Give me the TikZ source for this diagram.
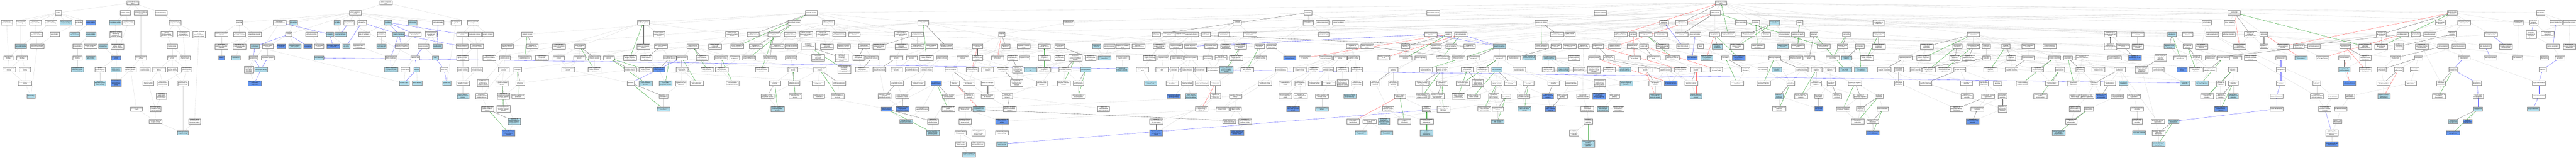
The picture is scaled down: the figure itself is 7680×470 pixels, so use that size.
\documentclass[tikz,border=0pt]{standalone}
\usepackage{fontspec}
\setmainfont{Liberation Sans}
\usepackage{varwidth}
\usetikzlibrary{arrows.meta}
\definecolor{lbc}{HTML}{ADD8E6}
\definecolor{dbc}{HTML}{6495ED}
\pgfdeclarelayer{bglayer}
\pgfdeclarelayer{edgelayer}
\pgfsetlayers{bglayer,edgelayer,main}
\newcommand\GN[4][wbox]{\node[#1] (#2) at (#3) {#4};}
\tikzset{
 wbox/.style={draw=black!45, line width=0.6pt, fill=white, font=\fontsize{3.8}{4.2}\selectfont, inner xsep=2pt, inner ysep=1.6pt, minimum height=13pt, minimum width=18pt, execute at begin node={\begin{varwidth}{36pt}\centering\hyphenpenalty=10000\relax}, execute at end node={\end{varwidth}}},
 lbox/.style={wbox, fill=lbc},
 dbox/.style={wbox, fill=dbc},
 ge/.style={draw=black!16, line width=0.5pt, -{Stealth[length=2.2pt,width=1.8pt]}},
 gr/.style={ge, draw=green!55!black},
 rd/.style={ge, draw=red!75},
 bk/.style={ge, draw=black!70},
 bl/.style={ge, draw=blue!75},
}
\begin{document}
\begin{tikzpicture}[x=1pt,y=-1pt]
\begin{pgfonlayer}{bglayer}
\fill[white] (0,0) rectangle (7680,470);
\end{pgfonlayer}
\useasboundingbox (0,0) rectangle (7680,470);
% ---------------- molecular function ----------------
\GN{mf}{396,8}{molecular function\\MFO}
\GN{bind}{174,38}{binding}
\GN{cat}{373,38}{catalytic activity}
\GN{mta}{420,38}{molecular transducer activity}
\GN{tra}{480,38}{transporter activity}
\GN{cdb}{20,67}{carbohydrate derivative binding}
\GN{smb}{62,67}{small molecule binding}
\GN{hcb}{105,67}{heterocyclic compound binding}
\GN{occb}{151,67}{organic cyclic compound binding}
\GN[lbox]{pccb}{196,67}{protein-containing complex binding}
\GN{ionb}{235,67}{ion binding}
\GN[dbox]{pb}{270,67}{protein binding}
\GN[lbox]{tfa}{344,67}{transferase activity}
\GN{cap}{382,67}{catalytic activity, acting on a protein}
\GN{ttr}{522,67}{transmembrane transporter activity}
\GN{npb}{108,102}{nucleoside phosphate binding}
\GN{anb}{163,102}{anion binding}
\GN[lbox]{psa}{222,102}{protein self-association}
\GN[lbox]{enzb}{270,102}{enzyme binding}
\GN{tfp}{345,103}{transferase activity, transferring phosphorus-containing groups}
\GN{pttr}{497,102}{passive transmembrane transporter activity}
\GN{mittr}{546,102}{monoatomic ion transmembrane transporter activity}
\GN{imttr}{593,102}{inorganic molecular entity transmembrane transporter activity}
\GN[lbox]{nb}{62,138}{nucleotide binding}
\GN{prtb}{111,138}{purine ribonucleoside triphosphate binding}
\GN{kb}{231,138}{kinase binding}
\GN{ulplb}{270,138}{ubiquitin-like protein ligase binding}
\GN[lbox]{ka}{307,138}{kinase activity}
\GN{ptaa}{350,138}{phosphotransferase activity, alcohol group as acceptor}
\GN{cha}{513,138}{channel activity}
\GN{rnb}{25,172}{ribonucleotide binding}
\GN{pnb}{66,172}{purine nucleotide binding}
\GN{pkb}{231,172}{protein kinase binding}
\GN[lbox]{uplb}{270,172}{ubiquitin protein ligase binding}
\GN[dbox]{pka}{346,172}{protein kinase activity}
\GN{sra}{420,172}{signaling receptor activity}
\GN{gca}{513,172}{gated channel activity}
\GN{mica}{552,172}{monoatomic ion channel activity}
\GN{prnb}{27,207}{purine ribonucleotide binding}
\GN{anbb}{74,207}{adenyl nucleotide binding}
\GN[lbox]{pdpkb}{231,207}{3-phosphoinositide-dependent protein kinase binding}
\GN{pstka}{298,207}{protein serine/threonine kinase activity}
\GN[lbox]{ptka}{346,207}{protein tyrosine kinase activity}
\GN{tsra}{389,207}{transmembrane signaling receptor activity}
\GN{ntra}{432,207}{neurotransmitter receptor activity}
\GN{lgca}{474,207}{ligand-gated channel activity}
\GN{vgca}{514,207}{voltage-gated channel activity}
\GN{migca}{556,207}{monoatomic ion gated channel activity}
\GN{arnb}{74,247}{adenyl ribonucleotide binding}
\GN[lbox]{cdpka}{298,247}{calmodulin-dependent protein kinase activity}
\GN[dbox]{trptka}{346,247}{transmembrane receptor protein tyrosine kinase activity}
\GN{tgca}{442,247}{transmitter-gated channel activity}
\GN{lgmica}{485,247}{ligand-gated monoatomic ion channel activity}
\GN{vgmica}{545,247}{voltage-gated monoatomic ion channel activity}
\GN[lbox]{atpb}{92,286}{ATP binding}
\GN{elgmica}{481,286}{extracellular ligand-gated monoatomic ion channel activity}
\GN{glura}{407,324}{glutamate receptor activity}
\GN{tgmica}{463,324}{transmitter-gated monoatomic ion channel activity}
\GN{igra}{464,361}{ionotropic glutamate receptor activity}
\GN{icttr}{580,361}{inorganic cation transmembrane transporter activity}
\GN[lbox]{nmdara}{545,395}{NMDA glutamate receptor activity}
% ---------------- cellular component ----------------
\GN{cc}{1151,8}{cellular component\\CCO}
\GN{cae}{1059,38}{cellular anatomical entity}
\GN{org}{713,67}{organelle}
\GN{ias}{833,67}{intracellular anatomical structure}
\GN[lbox]{cj}{875,67}{cell junction}
\GN[lbox]{cb}{1005,67}{cell body}
\GN{sdc}{1040,67}{somatodendritic compartment}
\GN{cper}{1079,67}{cell periphery}
\GN[lbox]{mem}{1157,67}{membrane}
\GN[lbox]{cproj}{1230,67}{cell projection}
\GN{cle}{1306,67}{cell leading edge}
\GN{spg}{1360,67}{site of polarized growth}
\GN{pcc}{1410,67}{protein-containing complex}
\GN{mbo}{660,102}{membrane-bounded organelle}
\GN{nmbo}{714,102}{non-membrane-bounded organelle}
\GN{io}{759,102}{intracellular organelle}
\GN{syn}{861,102}{synapse}
\GN{aj}{929,102}{anchoring junction}
\GN[lbox]{cyto}{983,102}{cytoplasm}
\GN[lbox]{ncb}{1015,102}{neuronal cell body}
\GN{som}{1086,102}{side of membrane}
\GN{mmd}{1137,102}{membrane microdomain}
\GN[lbox]{pm}{1189,102}{plasma membrane}
\GN{icm}{1237,102}{intrinsic component of membrane}
\GN{pmbcp}{1285,102}{plasma membrane bounded cell projection}
\GN{mpc}{1378,102}{membrane protein complex}
\GN{tc}{1416,102}{transporter complex}
\GN{rc}{1454,102}{receptor complex}
\GN{imbo}{660,138}{intracellular membrane-bounded organelle}
\GN{inmbo}{714,138}{intracellular non-membrane-bounded organelle}
\GN[lbox]{psyn}{760,138}{postsynapse}
\GN{nns}{798,138}{neuron to neuron synapse}
\GN[dbox]{gsyn}{838,138}{glutamatergic synapse}
\GN[lbox]{sca}{879,138}{Schaffer collateral - CA1 synapse}
\GN[dbox]{presyn}{917,138}{presynapse}
\GN{csj}{951,138}{cell-substrate junction}
\GN[dbox]{prc}{993,138}{perinuclear region of cytoplasm}
\GN[lbox]{ccx}{1032,138}{cell cortex}
\GN{csm}{1070,138}{cytoplasmic side of membrane}
\GN[lbox]{mraft}{1137,138}{membrane raft}
\GN{icpm}{1198,138}{intrinsic component of plasma membrane}
\GN{np}{1262,138}{neuron projection}
\GN[lbox]{lam}{1304,138}{lamellipodium}
\GN{pmpc}{1378,138}{plasma membrane protein complex}
\GN{tmtc}{1422,138}{transmembrane transporter complex}
\GN[dbox]{nuc}{660,172}{nucleus}
\GN[lbox]{csk}{703,172}{cytoskeleton}
\GN{pss}{755,172}{postsynaptic specialization}
\GN{asyn}{798,172}{asymmetric synapse}
\GN[lbox]{fa}{951,172}{focal adhesion}
\GN{cspm}{1165,172}{cytoplasmic side of plasma membrane}
\GN{dtree}{1238,172}{dendritic tree}
\GN[lbox]{axon}{1298,172}{axon}
\GN{pmsrc}{1379,172}{plasma membrane signaling receptor complex}
\GN{pssic}{742,207}{postsynaptic specialization, intracellular component}
\GN[lbox]{psd}{778,207}{postsynaptic density}
\GN[lbox]{iccspm}{1166,207}{intrinsic component of cytoplasmic side of plasma membrane}
\GN{nspine}{1208,207}{neuron spine}
\GN[lbox]{dend}{1242,207}{dendrite}
\GN{daxon}{1324,207}{distal axon}
\GN{ntrc}{1379,207}{neurotransmitter receptor complex}
\GN{micc}{1422,207}{monoatomic ion channel complex}
\GN[dbox]{psdic}{759,247}{postsynaptic density, intracellular component}
\GN[lbox]{dspine}{1205,247}{dendritic spine}
\GN[lbox]{adend}{1244,247}{apical dendrite}
\GN[lbox]{gcone}{1332,247}{growth cone}
\GN{igrc}{1380,247}{ionotropic glutamate receptor complex}
\GN[lbox]{nmdarc}{1380,286}{NMDA selective glutamate receptor complex}
% ---------------- biological process ----------------
\GN{bp}{5131,8}{biological process\\BPO}
\GN{cp}{5113,38}{cellular process}
\GN{mp}{2419,38}{metabolic process}
\GN{loc}{3900,38}{localization}
\GN{hp}{4273,38}{homeostatic process}
\GN{breg}{4771,38}{biological regulation}
\GN{mop}{6661,38}{multicellular organismal process}
\GN{dev}{7311,38}{developmental process}
\GN{rep}{7574,38}{reproduction}
% row 67
\GN{ncmp}{1918,67}{nitrogen compound metabolic process}
\GN{bsp}{2368,67}{biosynthetic process}
\GN{osmp}{2469,67}{organic substance metabolic process}
\GN{cmp}{2752,67}{cellular metabolic process}
\GN{eol}{3186,67}{establishment of localization}
\GN{chh}{3688,67}{chemical homeostasis}
\GN{mol}{3900,67}{maintenance of location}
\GN{chom}{3943,67}{cellular homeostasis}
\GN{cloc}{3991,67}{cellular localization}
\GN{rts}{4595,67}{response to stimulus}
\GN{moh}{4961,67}{multicellular organismal homeostasis}
\GN{rbp}{5013,67}{regulation of biological process}
\GN{trem}{5190,67}{tissue remodeling}
\GN{locom}{5234,67}{locomotion}
\GN[lbox]{isp}{5290,67}{immune system process}
\GN{growth}{5365,67}{growth}
\GN{ccob}{5601,67}{cellular component organization or biogenesis}
\GN{cact}{6579,67}{cell activation}
\GN{tmig}{6647,67}{tissue migration}
\GN{cdp}{7275,67}{cellular developmental process}
\GN{asd}{7346,67}{anatomical structure development}
\GN{dmat}{7508,67}{developmental maturation}
\GN{mor}{7554,67}{multicellular organism reproduction}
\GN{srep}{7620,67}{sexual reproduction}
\GN{rp}{7661,67}{reproductive process}
% row 102
\GN{capr}{1572,102}{catabolic process}
\GN{rnsmp}{1965,102}{reactive nitrogen species metabolic process}
\GN{cncmp}{2182,102}{cellular nitrogen compound metabolic process}
\GN{rmp}{2245,102}{regulation of metabolic process}
\GN{cbp}{2307,102}{cellular biosynthetic process}
\GN{hmp}{2355,102}{heterocycle metabolic process}
\GN{cacmp}{2403,102}{cellular aromatic compound metabolic process}
\GN{occmp}{2453,102}{organic cyclic compound metabolic process}
\GN{osbp}{2501,102}{organic substance biosynthetic process}
\GN{pmp}{2547,102}{primary metabolic process}
\GN{ohcmp}{2687,102}{organic hydroxy compound metabolic process}
\GN{smmp}{2735,102}{small molecule metabolic process}
\GN{trans}{2986,102}{transport}
\GN{rlocz}{3447,102}{regulation of localization}
\GN{rasm}{3485,102}{response to abiotic stimulus}
\GN{rstr}{3522,102}{response to stress}
\GN{rchem}{3553,102}{response to chemical}
\GN{iih}{3595,102}{inorganic ion homeostasis}
\GN{mih}{3649,102}{monoatomic ion homeostasis}
\GN{ichh}{3727,102}{intracellular chemical homeostasis}
\GN{molc}{3946,102}{maintenance of location in cell}
\GN{crs}{4265,102}{cellular response to stimulus}
\GN{sig}{4317,102}{signaling}
\GN{ccom}{4355,102}{cell communication}
\GN{rrs}{4642,102}{regulation of response to stimulus}
\GN{sysp}{4680,102}{system process}
\GN{nrbp}{4831,102}{negative regulation of biological process}
\GN{cdeath}{4869,102}{cell death}
\GN{res}{4906,102}{response to external stimulus}
\GN{ash}{4952,102}{anatomical structure homeostasis}
\GN{rcp}{5013,102}{regulation of cellular process}
\GN{bremod}{5054,102}{bone remodeling}
\GN{cpp}{5111,102}{cell population proliferation}
\GN{prbp}{5152,102}{positive regulation of biological process}
\GN{risp}{5212,102}{regulation of immune system process}
\GN{rloc}{5265,102}{regulation of locomotion}
\GN{iresp}{5319,102}{immune response}
\GN{rgrowth}{5360,102}{regulation of growth}
\GN{cgrowth}{5408,102}{cell growth}
\GN{cmot}{5505,102}{cell motility}
\GN{ccb}{5601,102}{cellular component biogenesis}
\GN{cco}{5883,102}{cellular component organization}
\GN{eomcp}{6291,102}{establishment or maintenance of cell polarity}
\GN{afbp}{6373,102}{actin filament-based process}
\GN[lbox]{cadh}{6475,102}{cell adhesion}
\GN{iep}{6522,102}{immune effector process}
\GN{lact}{6595,102}{leukocyte activation}
\GN{epim}{6644,102}{epithelium migration}
\GN{rmop}{6709,102}{regulation of multicellular organismal process}
\GN{oss}{6749,102}{ossification}
\GN{rdp}{7099,102}{regulation of developmental process}
\GN{cdiff}{7162,102}{cell differentiation}
\GN{aod}{7202,102}{animal organ development}
\GN{tdev}{7244,102}{tissue development}
\GN{mod}{7310,102}{multicellular organism development}
\GN{asm}{7426,102}{anatomical structure morphogenesis}
\GN{cpir}{7546,102}{cellular process involved in reproduction in multicellular organism}
\GN{morp}{7595,102}{multicellular organismal reproductive process}
% row 138
\GN{oscp}{1512,138}{organic substance catabolic process}
\GN{rcatp}{1587,138}{regulation of catabolic process}
\GN{oncmp}{1666,138}{organonitrogen compound metabolic process}
\GN{amp}{1728,138}{amide metabolic process}
\GN{rncmp}{1918,138}{regulation of nitrogen compound metabolic process}
\GN{nomp}{1970,138}{nitric oxide metabolic process}
\GN{mmp}{2065,138}{macromolecule metabolic process}
\GN{cncbp}{2131,138}{cellular nitrogen compound biosynthetic process}
\GN{prmp}{2197,138}{positive regulation of metabolic process}
\GN{rbsp}{2253,138}{regulation of biosynthetic process}
\GN{hbp}{2318,138}{heterocycle biosynthetic process}
\GN{acbp}{2359,138}{aromatic compound biosynthetic process}
\GN{nccmp}{2410,138}{nucleobase-containing compound metabolic process}
\GN{occbp}{2465,138}{organic cyclic compound biosynthetic process}
\GN{rpmp}{2515,138}{regulation of primary metabolic process}
\GN{chmp}{2576,138}{carbohydrate metabolic process}
\GN{rsmmp}{2621,138}{regulation of small molecule metabolic process}
\GN{ohcbp}{2687,138}{organic hydroxy compound biosynthetic process}
\GN{smbp}{2735,138}{small molecule biosynthetic process}
\GN{almp}{2777,138}{alcohol metabolic process}
\GN{rcmp}{2821,138}{regulation of cellular metabolic process}
\GN{mit}{2914,138}{monoatomic ion transport}
\GN{rtrans}{2998,138}{regulation of transport}
\GN{ros}{3052,138}{response to osmotic stress}
\GN{phmp}{3113,138}{phosphorus metabolic process}
\GN{tmt}{3159,138}{transmembrane transport}
\GN[lbox]{rbac}{3269,138}{response to bacterium}
\GN{defr}{3307,138}{defense response}
\GN{roxs}{3347,138}{response to oxidative stress}
\GN{rinorg}{3394,138}{response to inorganic substance}
\GN{rocc}{3456,138}{response to oxygen-containing compound}
\GN{rosub}{3506,138}{response to organic substance}
\GN{crcs}{3550,138}{cellular response to chemical stimulus}
\GN{mch}{3610,138}{monoatomic cation homeostasis}
\GN{imih}{3654,138}{intracellular monoatomic ion homeostasis}
\GN{rosmp}{3698,138}{reactive oxygen species metabolic process}
\GN{lmp}{3755,138}{lipid metabolic process}
\GN{rfss}{3791,138}{response to fluid shear stress}
\GN{rmf}{4032,138}{regulation of molecular function}
\GN{crst}{4076,138}{cellular response to stress}
\GN{rsig}{4190,138}{regulation of signaling}
\GN{rccom}{4281,138}{regulation of cell communication}
\GN{ccs}{4326,138}{cell-cell signaling}
\GN{rrst}{4381,138}{regulation of response to stress}
\GN[lbox]{st}{4470,138}{signal transduction}
\GN{prrs}{4596,138}{positive regulation of response to stimulus}
\GN{nsp}{4639,138}{nervous system process}
\GN{rsysp}{4680,138}{regulation of system process}
\GN{rbq}{4721,138}{regulation of biological quality}
\GN{pcd}{4764,138}{programmed cell death}
\GN{nrcp}{4814,138}{negative regulation of cellular process}
\GN{rcd}{4867,138}{regulation of cell death}
\GN{ndeath}{4901,138}{neuron death}
\GN{rres}{4956,138}{regulation of response to external stimulus}
\GN{thom}{5017,138}{tissue homeostasis}
\GN{taxis}{5070,138}{taxis}
\GN[lbox]{rcpp}{5120,138}{regulation of cell population proliferation}
\GN{prisp}{5178,138}{positive regulation of immune system process}
\GN{prloc}{5240,138}{positive regulation of locomotion}
\GN[lbox]{air}{5315,138}{adaptive immune response}
\GN{prg}{5360,138}{positive regulation of growth}
\GN{prcp}{5437,138}{positive regulation of cellular process}
\GN{rcmot}{5493,138}{regulation of cell motility}
\GN{cmig}{5544,138}{cell migration}
\GN{rccb}{5601,138}{regulation of cellular component biogenesis}
\GN{rcco}{5744,138}{regulation of cellular component organization}
\GN{cpo}{5835,138}{cell projection organization}
\GN{sfo}{5883,138}{supramolecular fiber organization}
\GN{cjo}{5922,138}{cell junction organization}
\GN{oo}{5980,138}{organelle organization}
\GN{cca}{6046,138}{cellular component assembly}
\GN{pcco}{6110,138}{protein-containing complex organization}
\GN{remcp}{6291,138}{regulation of establishment or maintenance of cell polarity}
\GN{ecp}{6330,138}{establishment of cell polarity}
\GN{rafbp}{6373,138}{regulation of actin filament-based process}
\GN[lbox]{rcadh}{6468,138}{regulation of cell adhesion}
\GN{csa}{6522,138}{cell-substrate adhesion}
\GN{caiir}{6563,138}{cell activation involved in immune response}
\GN{nrmop}{6677,138}{negative regulation of multicellular organismal process}
\GN{ross}{6749,138}{regulation of ossification}
\GN{nrdp}{6806,138}{negative regulation of developmental process}
\GN{rcdiff}{6853,138}{regulation of cell differentiation}
\GN{cmorph}{6899,138}{cell morphogenesis}
\GN{btd}{6991,138}{biomineral tissue development}
\GN{prmop}{7051,138}{positive regulation of multicellular organismal process}
\GN{prdp}{7099,138}{positive regulation of developmental process}
\GN{rmod}{7151,138}{regulation of multicellular organismal development}
\GN{rasmo}{7220,138}{regulation of anatomical structure morphogenesis}
\GN{cdev}{7283,138}{cell development}
\GN{sdev}{7330,138}{system development}
\GN{tubed}{7409,138}{tube development}
\GN{asfm}{7471,138}{anatomical structure formation involved in morphogenesis}
\GN{gg}{7611,138}{gamete generation}
\GN{dpir}{7660,138}{developmental process involved in reproduction}
% row 172
\GN{onccp}{1459,172}{organonitrogen compound catabolic process}
\GN{mcp}{1505,172}{macromolecule catabolic process}
\GN{prcatp}{1564,172}{positive regulation of catabolic process}
\GN{oncbp}{1615,172}{organonitrogen compound biosynthetic process}
\GN{pepmp}{1666,172}{peptide metabolic process}
\GN{abp}{1727,172}{amide biosynthetic process}
\GN{ramp}{1772,172}{regulation of amide metabolic process}
\GN{protmp}{1815,172}{protein metabolic process}
\GN{prncmp}{1878,172}{positive regulation of nitrogen compound metabolic process}
\GN{rnomp}{1927,172}{regulation of nitric oxide metabolic process}
\GN{nobp}{1996,172}{nitric oxide biosynthetic process}
\GN{gexp}{2033,172}{gene expression}
\GN{rmmp}{2093,172}{regulation of macromolecule metabolic process}
\GN{mbp}{2150,172}{macromolecule biosynthetic process}
\GN{mmod}{2190,172}{macromolecule modification}
\GN{prbsp}{2233,172}{positive regulation of biosynthetic process}
\GN{rcbp}{2295,172}{regulation of cellular biosynthetic process}
\GN{namp}{2358,172}{nucleic acid metabolic process}
\GN{nccbp}{2439,172}{nucleobase-containing compound biosynthetic process}
\GN{rnccmp}{2509,172}{regulation of nucleobase-containing compound metabolic process}
\GN{rchmp}{2559,172}{regulation of carbohydrate metabolic process}
\GN{chbp}{2599,172}{carbohydrate biosynthetic process}
\GN{albp}{2672,172}{alcohol biosynthetic process}
\GN{polmp}{2718,172}{polyol metabolic process}
\GN{prcmp}{2762,172}{positive regulation of cellular metabolic process}
\GN{opmp}{2808,172}{organophosphate metabolic process}
\GN{mcat}{2870,172}{monoatomic cation transport}
\GN{rmit}{2914,172}{regulation of monoatomic ion transport}
\GN{nrtrans}{2974,172}{negative regulation of transport}
\GN{mitt}{3018,172}{monoatomic ion transmembrane transport}
\GN{rsalt}{3054,172}{response to salt}
\GN{rphmp}{3113,172}{regulation of phosphorus metabolic process}
\GN{iitt}{3159,172}{inorganic ion transmembrane transport}
\GN{pccmp}{3206,172}{phosphate-containing compound metabolic process}
\GN{rtmt}{3252,172}{regulation of transmembrane transport}
\GN[lbox]{drbac}{3293,172}{defense response to bacterium}
\GN{rros}{3347,172}{response to reactive oxygen species}
\GN{croc}{3427,172}{cellular response to oxygen-containing compound}
\GN{rlip}{3468,172}{response to lipid}
\GN{cros}{3509,172}{cellular response to organic substance}
\GN{rcyt}{3550,172}{response to cytokine}
\GN{cih}{3600,172}{calcium ion homeostasis}
\GN{imch}{3640,172}{intracellular monoatomic cation homeostasis}
\GN{rrosmp}{3685,172}{regulation of reactive oxygen species metabolic process}
\GN{rlmp}{3758,172}{regulation of lipid metabolic process}
\GN[dbox]{crfss}{3845,172}{cellular response to fluid shear stress}
\GN{nrsig}{3890,172}{negative regulation of signaling}
\GN{prmf}{3952,172}{positive regulation of molecular function}
\GN{rca}{3996,172}{regulation of catalytic activity}
\GN{rta}{4034,172}{regulation of transporter activity}
\GN{nrcc}{4125,172}{negative regulation of cell communication}
\GN{prsig}{4190,172}{positive regulation of signaling}
\GN{ssig}{4235,172}{synaptic signaling}
\GN{prccom}{4300,172}{positive regulation of cell communication}
\GN{rcrs}{4348,172}{regulation of cellular response to stress}
\GN{rst}{4393,172}{regulation of signal transduction}
\GN{ist}{4471,172}{intracellular signal transduction}
\GN{rnsp}{4514,172}{regulation of nervous system process}
\GN[lbox]{prcca}{4558,172}{positive regulation of cytosolic calcium ion concentration}
\GN[lbox]{csrsp}{4618,172}{cell surface receptor signaling pathway}
\GN{gpcr}{4693,172}{G protein-coupled receptor signaling pathway}
\GN{app}{4752,172}{apoptotic process}
\GN{rpcd}{4796,172}{regulation of programmed cell death}
\GN{nrcd}{4873,172}{negative regulation of cell death}
\GN{rnd}{4930,172}{regulation of neuron death}
\GN{prres}{4986,172}{positive regulation of response to external stimulus}
\GN[dbox]{bres}{5045,172}{bone resorption}
\GN[lbox]{nrcpp}{5088,172}{negative regulation of cell population proliferation}
\GN{chemo}{5144,172}{chemotaxis}
\GN[dbox]{prcpp}{5183,172}{positive regulation of cell population proliferation}
\GN{lmig}{5291,172}{leukocyte migration}
\GN{rssa}{5354,172}{regulation of synapse structure or activity}
\GN{rcg}{5394,172}{regulation of cell growth}
\GN{prcm}{5464,172}{positive regulation of cell motility}
\GN[lbox]{rcmig}{5505,172}{regulation of cell migration}
\GN{prccb}{5566,172}{positive regulation of cellular component biogenesis}
\GN{synorg}{5680,172}{synapse organization}
\GN{prcco}{5734,172}{positive regulation of cellular component organization}
\GN{rcpo}{5828,172}{regulation of cell projection organization}
\GN{rsfo}{5869,172}{regulation of supramolecular fiber organization}
\GN{cja}{5922,172}{cell junction assembly}
\GN{roo}{5996,172}{regulation of organelle organization}
\GN{oa}{6046,172}{organelle assembly}
\GN{pcca}{6125,172}{protein-containing complex assembly}
\GN{csko}{6165,172}{cytoskeleton organization}
\GN{rass}{6208,172}{regulation of anatomical structure size}
\GN{csjo}{6304,172}{cell-substrate junction organization}
\GN[dbox]{recp}{6364,172}{regulation of establishment of cell polarity}
\GN{pmbcpo}{6441,172}{plasma membrane bounded cell projection organization}
\GN{prcadh}{6500,172}{positive regulation of cell adhesion}
\GN{rcsa}{6548,172}{regulation of cell-substrate adhesion}
\GN{rcmorph}{6590,172}{regulation of cell morphogenesis}
\GN{cma}{6628,172}{cell-matrix adhesion}
\GN{atcm}{6665,172}{ameboidal-type cell migration}
\GN{laiir}{6710,172}{leukocyte activation involved in immune response}
\GN{nsd}{6800,172}{nervous system development}
\GN[lbox]{nross}{6860,172}{negative regulation of ossification}
\GN{nrcdiff}{6924,172}{negative regulation of cell differentiation}
\GN{bmin}{6989,172}{biomineralization}
\GN{rbtd}{7052,172}{regulation of biomineral tissue development}
\GN{rcdev}{7141,172}{regulation of cell development}
\GN{hemo}{7210,172}{hemopoiesis}
\GN{csd}{7346,172}{circulatory system development}
\GN{tmorph}{7425,172}{tube morphogenesis}
\GN{cmat}{7506,172}{cell maturation}
\GN{gcd}{7585,172}{germ cell development}
\GN{fgg}{7632,172}{female gamete generation}
% row 207
\GN{ppc}{1502,207}{protein catabolic process}
\GN{prot}{1543,207}{proteolysis}
\GN{pepbp}{1694,207}{peptide biosynthetic process}
\GN{pramp}{1772,207}{positive regulation of amide metabolic process}
\GN{rpmpb}{1879,207}{regulation of protein metabolic process}
\GN{pcpmp}{1925,207}{positive regulation of cellular protein metabolic process}
\GN[dbox]{rnobp}{1965,207}{regulation of nitric oxide biosynthetic process}
\GN{rgexp}{2033,207}{regulation of gene expression}
\GN{prmmp}{2108,207}{positive regulation of macromolecule metabolic process}
\GN{rmbp}{2151,207}{regulation of macromolecule biosynthetic process}
\GN{prcbp}{2271,207}{positive regulation of cellular biosynthetic process}
\GN{dnamp}{2364,207}{DNA metabolic process}
\GN{pmproc}{2444,207}{protein modification process}
\GN{prnccmp}{2517,207}{positive regulation of nucleobase-containing compound metabolic process}
\GN{rchbp}{2570,207}{regulation of carbohydrate biosynthetic process}
\GN{ralbp}{2622,207}{regulation of alcohol biosynthetic process}
\GN{polbp}{2673,207}{polyol biosynthetic process}
\GN{opbp}{2718,207}{organophosphate biosynthetic process}
\GN{ipmp}{2763,207}{inositol phosphate metabolic process}
\GN{mitr}{2835,207}{metal ion transport}
\GN{nrmit}{2898,207}{negative regulation of monoatomic ion transport}
\GN{ost}{2944,207}{organic substance transport}
\GN{mctt}{2990,207}{monoatomic cation transmembrane transport}
\GN{rmitt}{3034,207}{regulation of monoatomic ion transmembrane transport}
\GN[lbox]{rcai}{3072,207}{response to calcium ion}
\GN{prphmp}{3113,207}{positive regulation of phosphorus metabolic process}
\GN{rphosmp}{3176,207}{regulation of phosphate metabolic process}
\GN[lbox]{phos}{3237,207}{phosphorylation}
\GN[lbox]{rhp}{3345,207}{response to hydrogen peroxide}
\GN{rra}{3406,207}{response to retinoic acid}
\GN{crlip}{3464,207}{cellular response to lipid}
\GN{rchemo}{3501,207}{response to chemokine}
\GN{crcyt}{3539,207}{cellular response to cytokine stimulus}
\GN{rtnf}{3579,207}{response to tumor necrosis factor}
\GN{icih}{3616,207}{intracellular calcium ion homeostasis}
\GN[lbox]{prrosmp}{3656,207}{positive regulation of reactive oxygen species metabolic process}
\GN{prlmp}{3718,207}{positive regulation of lipid metabolic process}
\GN{rtfa}{3819,207}{regulation of transferase activity}
\GN{prca}{3875,207}{positive regulation of catalytic activity}
\GN{roxa}{3917,207}{regulation of oxidoreductase activity}
\GN{rha}{3959,207}{regulation of hydrolase activity}
\GN{rtta}{4002,207}{regulation of transmembrane transporter activity}
\GN{rsra}{4045,207}{regulation of signaling receptor activity}
\GN{tss}{4153,207}{trans-synaptic signaling}
\GN{prst}{4251,207}{positive regulation of signal transduction}
\GN{rspstat}{4299,207}{receptor signaling pathway via STAT}
\GN{sapk}{4374,207}{stress-activated protein kinase signaling cascade}
\GN{rist}{4420,207}{regulation of intracellular signal transduction}
\GN[lbox]{mapk}{4462,207}{MAPK cascade}
\GN{smms}{4529,207}{second-messenger-mediated signaling}
\GN{elrsp}{4615,207}{enzyme-linked receptor protein signaling pathway}
\GN[lbox]{imsp}{4661,207}{integrin-mediated signaling pathway}
\GN{grsp}{4707,207}{glutamate receptor signaling pathway}
\GN{csrcc}{4752,207}{cell surface receptor signaling pathway involved in cell-cell signaling}
\GN{rasp}{4798,207}{regulation of apoptotic signaling pathway}
\GN[lbox]{irsp}{4844,207}{insulin receptor signaling pathway}
\GN{mcap}{4905,207}{muscle cell apoptotic process}
\GN{rap}{4965,207}{regulation of apoptotic process}
\GN{nrpcd}{5011,207}{negative regulation of programmed cell death}
\GN{nap}{5056,207}{neuron apoptotic process}
\GN{nrnd}{5117,207}{negative regulation of neuron death}
\GN{rchemot}{5204,207}{regulation of chemotaxis}
\GN{cchem}{5256,207}{cell chemotaxis}
\GN[lbox]{scas}{5297,207}{signal complex assembly}
\GN{rlmig}{5372,207}{regulation of leukocyte migration}
\GN{mcm}{5415,207}{mononuclear cell migration}
\GN{mlm}{5455,207}{myeloid leukocyte migration}
\GN[lbox]{prcg}{5501,207}{positive regulation of cell growth}
\GN[lbox]{prcmig}{5548,207}{positive regulation of cell migration}
\GN{rso}{5618,207}{regulation of synapse organization}
\GN{pso}{5661,207}{postsynapse organization}
\GN{rcja}{5711,207}{regulation of cell junction assembly}
\GN{prcpo}{5750,207}{positive regulation of cell projection organization}
\GN{prsfo}{5797,207}{positive regulation of supramolecular fiber organization}
\GN{syna}{5843,207}{synapse assembly}
\GN{proo}{5934,207}{positive regulation of organelle organization}
\GN{roa}{5997,207}{regulation of organelle assembly}
\GN{rpcca}{6075,207}{regulation of protein-containing complex assembly}
\GN{ppol}{6141,207}{protein polymerization}
\GN{rcsko}{6202,207}{regulation of cytoskeleton organization}
\GN{rccs}{6256,207}{regulation of cellular component size}
\GN{acsko}{6319,207}{actin cytoskeleton organization}
\GN{rpmbcpo}{6385,207}{regulation of plasma membrane bounded cell projection organization}
\GN{csja}{6435,207}{cell-substrate junction assembly}
\GN[dbox]{rcshape}{6505,207}{regulation of cell shape}
\GN{prcsa}{6546,207}{positive regulation of cell-substrate adhesion}
\GN{rcma}{6587,207}{regulation of cell-matrix adhesion}
\GN{epcm}{6657,207}{epithelial cell migration}
\GN{neurog}{6800,207}{neurogenesis}
\GN[lbox]{rbmin}{6989,207}{regulation of biomineralization}
\GN{nrbtd}{7052,207}{negative regulation of biomineral tissue development}
\GN{rhemo}{7100,207}{regulation of hemopoiesis}
\GN{mcd}{7151,207}{myeloid cell differentiation}
\GN{ld}{7199,207}{leukocyte differentiation}
\GN{vd}{7313,207}{vasculature development}
\GN{oogen}{7580,207}{oogenesis}
% row 247
\GN{mdmcp}{1440,247}{modification-dependent macromolecule catabolic process}
\GN{pipcp}{1497,247}{proteolysis involved in protein catabolic process}
\GN{rprot}{1551,247}{regulation of proteolysis}
\GN{transl}{1880,247}{translation}
\GN[lbox]{prpm}{1925,247}{positive regulation of protein metabolic process}
\GN[lbox]{prnobp}{1984,247}{positive regulation of nitric oxide biosynthetic process}
\GN{ptrge}{2031,247}{posttranscriptional regulation of gene expression}
\GN{prgexp}{2077,247}{positive regulation of gene expression}
\GN{prmbp}{2184,247}{positive regulation of macromolecule biosynthetic process}
\GN{dnabp}{2310,247}{DNA biosynthetic process}
\GN{rdnamp}{2367,247}{regulation of DNA metabolic process}
\GN{paam}{2439,247}{peptidyl-amino acid modification}
\GN{rpmproc}{2501,247}{regulation of protein modification process}
\GN{ipbp}{2674,247}{inositol phosphate biosynthetic process}
\GN{itpmp}{2737,247}{inositol trisphosphate metabolic process}
\GN[dbox]{pphos}{2791,247}{protein phosphorylation}
\GN{kit}{2846,247}{potassium ion transport}
\GN{rmitr}{2888,247}{regulation of metal ion transport}
\GN{cait}{2944,247}{calcium ion transport}
\GN{rmctt}{3031,247}{regulation of monoatomic cation transmembrane transport}
\GN{ictt}{3106,247}{inorganic cation transmembrane transport}
\GN{prphosmp}{3171,247}{positive regulation of phosphate metabolic process}
\GN{rphos}{3215,247}{regulation of phosphorylation}
\GN[lbox]{crra}{3430,247}{cellular response to retinoic acid}
\GN{crchemo}{3494,247}{cellular response to chemokine}
\GN{cmsp}{3539,247}{cytokine-mediated signaling pathway}
\GN{crtnf}{3584,247}{cellular response to tumor necrosis factor}
\GN{seqca}{3624,247}{sequestering of calcium ion}
\GN{prtfa}{3771,247}{positive regulation of transferase activity}
\GN{proxa}{3832,247}{positive regulation of oxidoreductase activity}
\GN{rmoa}{3876,247}{regulation of monooxygenase activity}
\GN{prha}{3920,247}{positive regulation of hydrolase activity}
\GN{rgtp}{3961,247}{regulation of GTPase activity}
\GN{rmitta}{4003,247}{regulation of monoatomic ion transmembrane transporter activity}
\GN{rntra}{4045,247}{regulation of neurotransmitter receptor activity}
\GN{rtss}{4100,247}{regulation of trans-synaptic signaling}
\GN{atss}{4153,247}{anterograde trans-synaptic signaling}
\GN{rrspstat}{4240,247}{regulation of receptor signaling pathway via STAT}
\GN{rjakstat}{4299,247}{receptor signaling pathway via JAK-STAT}
\GN{prist}{4361,247}{positive regulation of intracellular signal transduction}
\GN{rsapk}{4406,247}{regulation of stress-activated protein kinase signaling cascade}
\GN{samapk}{4463,247}{stress-activated MAPK cascade}
\GN{rmapk}{4503,247}{regulation of MAPK cascade}
\GN{erk}{4557,247}{ERK1 and ERK2 cascade}
\GN{cams}{4631,247}{calcium-mediated signaling}
\GN{cnms}{4684,247}{cyclic-nucleotide-mediated signaling}
\GN{trptksp}{4769,247}{transmembrane receptor protein tyrosine kinase signaling pathway}
\GN[lbox]{igrsp}{4848,247}{ionotropic glutamate receptor signaling pathway}
\GN{rmcap}{4935,247}{regulation of muscle cell apoptotic process}
\GN[dbox]{nrap}{4981,247}{negative regulation of apoptotic process}
\GN{rnap}{5042,247}{regulation of neuron apoptotic process}
\GN{prchemot}{5179,247}{positive regulation of chemotaxis}
\GN{prlmig}{5258,247}{positive regulation of leukocyte migration}
\GN{lchem}{5338,247}{leukocyte chemotaxis}
\GN{rmcm}{5414,247}{regulation of mononuclear cell migration}
\GN{mmig}{5459,247}{macrophage migration}
\GN{lymig}{5530,247}{lymphocyte migration}
\GN{rpso}{5661,247}{regulation of postsynapse organization}
\GN{rsyna}{5741,247}{regulation of synapse assembly}
\GN{esa}{5863,247}{excitatory synapse assembly}
\GN{psso}{5915,247}{postsynaptic specialization organization}
\GN{psasm}{5955,247}{postsynapse assembly}
\GN{prpcca}{6030,247}{positive regulation of protein-containing complex assembly}
\GN{rppol}{6117,247}{regulation of protein polymerization}
\GN{prcsko}{6182,247}{positive regulation of cytoskeleton organization}
\GN{racsko}{6244,247}{regulation of actin cytoskeleton organization}
\GN{acr}{6290,247}{actin cytoskeleton reorganization}
\GN[lbox]{afo}{6331,247}{actin filament organization}
\GN[lbox]{faa}{6514,247}{focal adhesion assembly}
\GN[lbox]{prcma}{6564,247}{positive regulation of cell-matrix adhesion}
\GN{repcm}{6621,247}{regulation of epithelial cell migration}
\GN{encm}{6658,247}{endothelial cell migration}
\GN{gon}{6800,247}{generation of neurons}
\GN{lyact}{6907,247}{lymphocyte activation}
\GN[dbox]{nrbmin}{7005,247}{negative regulation of biomineralization}
\GN{rmcd}{7106,247}{regulation of myeloid cell differentiation}
\GN{mncd}{7187,247}{mononuclear cell differentiation}
\GN{rvd}{7277,247}{regulation of vasculature development}
\GN{bvd}{7385,247}{blood vessel development}
\GN{oocd}{7569,247}{oocyte differentiation}
% row 286
\GN{mdpcp}{1436,286}{modification-dependent protein catabolic process}
\GN{rpipcp}{1501,286}{regulation of proteolysis involved in protein catabolic process}
\GN{prprot}{1545,286}{positive regulation of proteolysis}
\GN{rtransl}{1978,286}{regulation of translation}
\GN{rdnabp}{2288,286}{regulation of DNA biosynthetic process}
\GN{prdnamp}{2371,286}{positive regulation of DNA metabolic process}
\GN{ptm}{2442,286}{peptidyl-tyrosine modification}
\GN{prpmproc}{2497,286}{positive regulation of protein modification process}
\GN{ripbp}{2637,286}{regulation of inositol phosphate biosynthetic process}
\GN{itpbp}{2690,286}{inositol trisphosphate biosynthetic process}
\GN{rpphos}{2828,286}{regulation of protein phosphorylation}
\GN{rkit}{2890,286}{regulation of potassium ion transport}
\GN{rcait}{2944,286}{regulation of calcium ion transport}
\GN{catt}{3003,286}{calcium ion transmembrane transport}
\GN{prphos}{3215,286}{positive regulation of phosphorylation}
\GN[dbox]{chsp}{3499,286}{chemokine-mediated signaling pathway}
\GN[lbox]{tnfsp}{3551,286}{tumor necrosis factor-mediated signaling pathway}
\GN{rseqca}{3624,286}{regulation of sequestering of calcium ion}
\GN{rka}{3683,286}{regulation of kinase activity}
\GN{prmoa}{3832,286}{positive regulation of monooxygenase activity}
\GN{rnosa}{3877,286}{regulation of nitric-oxide synthase activity}
\GN{prgtp}{3941,286}{positive regulation of GTPase activity}
\GN[lbox]{rnmda}{4024,286}{regulation of NMDA receptor activity}
\GN{cst}{4173,286}{chemical synaptic transmission}
\GN{prrspstat}{4240,286}{positive regulation of receptor signaling pathway via STAT}
\GN{rrjak}{4285,286}{regulation of receptor signaling pathway via JAK-STAT}
\GN{prsapk}{4348,286}{positive regulation of stress-activated protein kinase signaling cascade}
\GN{prmapk}{4394,286}{positive regulation of MAPK cascade}
\GN{rsamapk}{4453,286}{regulation of stress-activated MAPK cascade}
\GN{jnk}{4490,286}{JNK cascade}
\GN{rerk}{4542,286}{regulation of ERK1 and ERK2 cascade}
\GN[dbox]{rcams}{4615,286}{regulation of calcium-mediated signaling}
\GN{camp}{4657,286}{cAMP-mediated signaling}
\GN{rmpot}{4719,286}{regulation of membrane potential}
\GN[dbox]{vegf}{4767,286}{vascular endothelial growth factor receptor signaling pathway}
\GN{erbb}{4813,286}{ERBB signaling pathway}
\GN[lbox]{nrmcap}{4935,286}{negative regulation of muscle cell apoptotic process}
\GN[lbox]{nrnap}{5056,286}{negative regulation of neuron apoptotic process}
\GN[lbox]{rlchem}{5304,286}{regulation of leukocyte chemotaxis}
\GN{prmcm}{5369,286}{positive regulation of mononuclear cell migration}
\GN{mchem}{5422,286}{macrophage chemotaxis}
\GN{rmmig}{5477,286}{regulation of macrophage migration}
\GN{rlymig}{5546,286}{regulation of lymphocyte migration}
\GN{lychem}{5602,286}{lymphocyte chemotaxis}
\GN{resa}{5864,286}{regulation of excitatory synapse assembly}
\GN{psdo}{5927,286}{postsynaptic density organization}
\GN{pssa}{5970,286}{postsynaptic specialization assembly}
\GN{prppol}{6083,286}{positive regulation of protein polymerization}
\GN{rafl}{6187,286}{regulation of actin filament length}
\GN{rafo}{6223,286}{regulation of actin filament organization}
\GN[dbox]{racr}{6264,286}{regulation of actin cytoskeleton reorganization}
\GN{apd}{6312,286}{actin polymerization or depolymerization}
\GN{afbo}{6362,286}{actin filament bundle organization}
\GN{prepcm}{6580,286}{positive regulation of epithelial cell migration}
\GN{rencm}{6621,286}{regulation of endothelial cell migration}
\GN[lbox]{bvecm}{6658,286}{blood vessel endothelial cell migration}
\GN{nd}{6787,286}{neuron differentiation}
\GN{laiirb}{6907,286}{lymphocyte activation involved in immune response}
\GN{bca}{6955,286}{B cell activation}
\GN{lyd}{7006,286}{lymphocyte differentiation}
\GN[lbox]{nrmcd}{7107,286}{negative regulation of myeloid cell differentiation}
\GN{prvd}{7271,286}{positive regulation of vasculature development}
\GN{bvm}{7388,286}{blood vessel morphogenesis}
\GN{oocdev}{7569,286}{oocyte development}
% row 324
\GN{ubpcp}{1453,324}{ubiquitin-dependent protein catabolic process}
\GN{prpipcp}{1501,324}{positive regulation of proteolysis involved in protein catabolic process}
\GN[lbox]{prtransl}{1978,324}{positive regulation of translation}
\GN[lbox]{prdnabp}{2318,324}{positive regulation of DNA biosynthetic process}
\GN[dbox]{ptyrp}{2643,324}{peptidyl-tyrosine phosphorylation}
\GN[dbox]{ritpbp}{2690,324}{regulation of inositol trisphosphate biosynthetic process}
\GN{pap}{2749,324}{protein autophosphorylation}
\GN{prpphos}{2827,324}{positive regulation of protein phosphorylation}
\GN{rpka}{2877,324}{regulation of protein kinase activity}
\GN[lbox]{nrkit}{2919,324}{negative regulation of potassium ion transport}
\GN{rcatt}{3010,324}{regulation of calcium ion transmembrane transport}
\GN{catic}{3290,324}{calcium ion transmembrane import into cytosol}
\GN{nrseqca}{3582,324}{negative regulation of sequestering of calcium ion}
\GN{prka}{3644,324}{positive regulation of kinase activity}
\GN{rlka}{3684,324}{regulation of lipid kinase activity}
\GN[dbox]{prnosa}{3855,324}{positive regulation of nitric-oxide synthase activity}
\GN[lbox]{agtp}{3941,324}{activation of GTPase activity}
\GN{mcst}{4138,324}{modulation of chemical synaptic transmission}
\GN{stg}{4253,324}{synaptic transmission, glutamatergic}
\GN{prrjak}{4303,324}{positive regulation of receptor signaling pathway via JAK-STAT}
\GN{prsamapk}{4425,324}{positive regulation of stress-activated MAPK cascade}
\GN{rjnk}{4465,324}{regulation of JNK cascade}
\GN[lbox]{prerk}{4545,324}{positive regulation of ERK1 and ERK2 cascade}
\GN[dbox]{rcamp}{4622,324}{regulation of cAMP-mediated signaling}
\GN{rpsmp}{4732,324}{regulation of postsynaptic membrane potential}
\GN[lbox]{egfr}{4779,324}{epidermal growth factor receptor signaling pathway}
\GN{cstp}{4825,324}{chemical synaptic transmission, postsynaptic}
\GN{prlchem}{5304,324}{positive regulation of leukocyte chemotaxis}
\GN[dbox]{rmchem}{5422,324}{regulation of macrophage chemotaxis}
\GN{prlymig}{5495,324}{positive regulation of lymphocyte migration}
\GN{rlychem}{5547,324}{regulation of lymphocyte chemotaxis}
\GN{tchem}{5613,324}{B cell chemotaxis}
\GN{rpsdo}{5833,324}{regulation of postsynaptic density organization}
\GN{psda}{5895,324}{postsynaptic density assembly}
\GN{rpssa}{5970,324}{regulation of postsynaptic specialization assembly}
\GN{rapd}{6186,324}{regulation of actin polymerization or depolymerization}
\GN{afp}{6227,324}{actin filament polymerization}
\GN{afba}{6371,324}{actin filament bundle assembly}
\GN[dbox]{prencm}{6621,324}{positive regulation of endothelial cell migration}
\GN{ndev}{6787,324}{neuron development}
\GN{bcaiir}{6931,324}{B cell activation involved in immune response}
\GN{bcd}{6978,324}{B cell differentiation}
\GN[lbox]{ang}{7388,324}{angiogenesis}
\GN[lbox]{oocm}{7552,324}{oocyte maturation}
% row 361
\GN[lbox]{rubpcp}{1533,361}{regulation of ubiquitin-dependent protein catabolic process}
\GN[lbox]{ptyra}{2701,361}{peptidyl-tyrosine autophosphorylation}
\GN{rptyrp}{2781,361}{regulation of peptidyl-tyrosine phosphorylation}
\GN{rpstka}{2877,361}{regulation of protein serine/threonine kinase activity}
\GN[dbox]{prpka}{2987,361}{positive regulation of protein kinase activity}
\GN{rscai}{3447,361}{release of sequestered calcium ion into cytosol}
\GN{prlka}{3664,361}{positive regulation of lipid kinase activity}
\GN{rpik}{3712,361}{regulation of phosphatidylinositol 3-kinase activity}
\GN{nrst}{4034,361}{negative regulation of synaptic transmission}
\GN{rsplas}{4083,361}{regulation of synaptic plasticity}
\GN[lbox]{pmcst}{4126,361}{postsynaptic modulation of chemical synaptic transmission}
\GN{prstr}{4187,361}{positive regulation of synaptic transmission}
\GN{rstg}{4253,361}{regulation of synaptic transmission, glutamatergic}
\GN[lbox]{prjnk}{4465,361}{positive regulation of JNK cascade}
\GN{epsp}{4735,361}{excitatory postsynaptic potential}
\GN{prlychem}{5538,361}{positive regulation of lymphocyte chemotaxis}
\GN{rtchem}{5583,361}{regulation of B cell chemotaxis}
\GN[dbox]{rpsda}{5881,361}{regulation of postsynaptic density assembly}
\GN{rafp}{6175,361}{regulation of actin filament polymerization}
\GN{cafbs}{6371,361}{contractile actin filament bundle assembly}
\GN{asor}{6433,361}{actomyosin structure organization}
\GN[lbox]{npd}{6480,361}{neuron projection development}
\GN{mbcd}{6968,361}{mature B cell differentiation}
\GN[lbox]{rang}{7313,361}{regulation of angiogenesis}
\GN[dbox]{spang}{7357,361}{sprouting angiogenesis}
% row 395
\GN[dbox]{prubpcp}{1516,395}{positive regulation of ubiquitin-dependent protein catabolic process}
\GN[lbox]{prptyrp}{2781,395}{positive regulation of peptidyl-tyrosine phosphorylation}
\GN{rmapka}{2863,395}{regulation of MAP kinase activity}
\GN{prpstka}{2917,395}{positive regulation of protein serine/threonine kinase activity}
\GN{apka}{2987,395}{activation of protein kinase activity}
\GN[dbox]{rrscai}{3447,395}{regulation of release of sequestered calcium ion into cytosol}
\GN[dbox]{prpik}{3688,395}{positive regulation of phosphatidylinositol 3-kinase activity}
\GN[lbox]{ltsd}{4057,395}{long-term synaptic depression}
\GN[lbox]{ltsp}{4134,395}{long-term synaptic potentiation}
\GN[lbox]{prstg}{4253,395}{positive regulation of synaptic transmission, glutamatergic}
\GN{mepsp}{4693,395}{modulation of excitatory postsynaptic potential}
\GN[dbox]{prtchem}{5583,395}{positive regulation of B cell chemotaxis}
\GN[lbox]{prafp}{6137,395}{positive regulation of actin filament polymerization}
\GN[lbox]{sfa}{6377,395}{stress fiber assembly}
\GN{rnpd}{6435,395}{regulation of neuron projection development}
\GN{mbcdiir}{6952,395}{mature B cell differentiation involved in immune response}
\GN[dbox]{prang}{7313,395}{positive regulation of angiogenesis}
% row 428
\GN{rjnka}{2864,428}{regulation of JUN kinase activity}
\GN{prmapka}{2915,428}{positive regulation of MAP kinase activity}
\GN[lbox]{ajnka}{2987,428}{activation of JUN kinase activity}
\GN[lbox]{prepsp}{4735,428}{positive regulation of excitatory postsynaptic potential}
\GN[lbox]{prnpd}{6435,428}{positive regulation of neuron projection development}
\GN[dbox]{mzbcd}{6952,428}{marginal zone B cell differentiation}
\GN[lbox]{prjnka}{2889,460}{positive regulation of JUN kinase activity}
% ================= edges =================
\begin{pgfonlayer}{edgelayer}
% MF
\foreach \a/\b in {bind/mf,cat/mf,mta/mf,tra/mf,cdb/bind,smb/bind,hcb/bind,occb/bind,pccb/bind,ionb/bind,pb/bind,tfa/cat,cap/cat,ttr/tra,npb/hcb,npb/occb,anb/ionb,psa/pb,enzb/pb,tfp/tfa,pttr/ttr,mittr/ttr,imttr/ttr,nb/npb,nb/smb,prtb/npb,prtb/anb,kb/enzb,ulplb/enzb,ka/tfp,ptaa/tfp,cha/pttr,rnb/nb,rnb/cdb,pnb/nb,pkb/kb,uplb/ulplb,pka/ka,pka/ptaa,pka/cap,sra/mta,gca/cha,mica/cha,mica/mittr,prnb/rnb,prnb/pnb,anbb/pnb,pdpkb/pkb,pstka/pka,ptka/pka,tsra/sra,ntra/sra,lgca/gca,vgca/gca,migca/gca,migca/mica,arnb/anbb,arnb/prnb,cdpka/pstka,trptka/ptka,trptka/tsra,tgca/lgca,lgmica/lgca,lgmica/migca,vgmica/vgca,vgmica/migca,atpb/arnb,atpb/prtb,elgmica/lgmica,glura/tsra,tgmica/tgca,tgmica/elgmica,igra/glura,igra/tgmica,icttr/imttr,nmdara/igra,nmdara/vgmica,nmdara/icttr}
  \draw[ge] (\a) -- (\b);
% CC gray
\foreach \a/\b in {cae/cc,pcc/cc,org/cae,ias/cae,cj/cae,cb/cae,sdc/cae,cper/cae,mem/cae,cproj/cae,cle/cae,spg/cae,syn/cae,mbo/org,nmbo/org,io/org,io/ias,syn/cj,aj/cj,ncb/cb,som/mem,mmd/mem,pmbcp/cproj,mpc/pcc,tc/pcc,rc/pcc,imbo/mbo,imbo/io,inmbo/nmbo,inmbo/io,nns/syn,gsyn/nns,sca/syn,csj/aj,ccx/cyto,csm/som,mraft/mmd,icpm/icm,np/pmbcp,lam/pmbcp,pmpc/mpc,tmtc/tc,tmtc/mpc,nuc/imbo,csk/inmbo,asyn/nns,fa/csj,cspm/csm,dtree/sdc,axon/np,pmsrc/pmpc,pmsrc/rc,pssic/pss,pssic/ias,iccspm/icpm,nspine/np,ntrc/pmsrc,micc/tmtc,psdic/pssic,dspine/nspine,dspine/psyn,adend/dend,gcone/spg,igrc/ntrc,igrc/micc,nmdarc/igrc}
  \draw[ge] (\a) -- (\b);
\foreach \a/\b in {cyto/ias,ncb/sdc,pm/cper,pm/mem,icm/mem,mpc/mem,psyn/syn,presyn/syn,prc/cyto,ccx/cper,icpm/pm,lam/cle,pmpc/pm,cspm/pm,dtree/np,pss/psyn,psd/pss,psd/asyn,iccspm/cspm,dend/dtree,daxon/axon,psdic/psd,dspine/dend,gcone/daxon}
  \draw[bl] (\a) -- (\b);
% BP gray
\foreach \a/\b in {cp/bp,mp/bp,loc/bp,hp/bp,breg/bp,mop/bp,dev/bp,rep/bp,rts/bp,growth/bp,locom/bp,isp/bp,ncmp/mp,bsp/mp,osmp/mp,cmp/mp,cmp/cp,capr/mp,eol/loc,chh/hp,mol/loc,chom/hp,chom/cp,cloc/loc,cloc/cp,moh/hp,moh/mop,rbp/breg,trem/mop,ccob/bp,ccob/cp,cact/cp,tmig/mop,cdp/dev,cdp/cp,asd/dev,dmat/dev,mor/rep,mor/mop,srep/rep,rp/rep}
  \draw[ge] (\a) -- (\b);
\foreach \a/\b in {rnsmp/ncmp,cncmp/ncmp,cncmp/cmp,rmp/rbp,cbp/bsp,cbp/cmp,hmp/osmp,cacmp/cmp,occmp/osmp,osbp/bsp,osbp/osmp,pmp/mp,ohcmp/osmp,smmp/mp,trans/eol,rlocz/rbp,rasm/rts,rstr/rts,rchem/rts,iih/chh,mih/chh,ichh/chh,ichh/chom,molc/mol,molc/cloc,crs/rts,crs/cp,sig/cp,ccom/cp,rrs/rbp,sysp/mop,nrbp/rbp,cdeath/cp,res/rts,ash/moh,rcp/rbp,rcp/cp,bremod/trem,cpp/cp,prbp/rbp,risp/rbp,rloc/rbp,iresp/isp,iresp/rts,rgrowth/rbp,cgrowth/growth,cmot/locom,ccb/ccob,cco/ccob,eomcp/cp,afbp/cp,cadh/cp,iep/isp,lact/cact,epim/tmig,rmop/rbp,oss/mop,rdp/rbp,cdiff/cdp,aod/asd,tdev/asd,mod/asd,asm/dev,cpir/rp,morp/mor}
  \draw[ge] (\a) -- (\b);
\foreach \a/\b in {oscp/capr,oscp/osmp,oncmp/ncmp,amp/ncmp,rncmp/rmp,nomp/rnsmp,mmp/pmp,cncbp/cncmp,cncbp/cbp,prmp/rmp,rbsp/rmp,hbp/hmp,acbp/cacmp,nccmp/hmp,occbp/occmp,occbp/osbp,rpmp/rmp,chmp/pmp,rsmmp/rmp,ohcbp/ohcmp,smbp/smmp,almp/ohcmp,rcmp/rmp,mit/trans,ros/rasm,phmp/cmp,tmt/trans,rbac/rts,defr/rstr,roxs/rstr,rinorg/rchem,rocc/rchem,rosub/rchem,crcs/rchem,crcs/crs,mch/mih,imih/mih,imih/ichh,rosmp/cmp,lmp/pmp,rfss/rasm,rmf/rbp,crst/rstr,crst/crs,rsig/rbp,rccom/rcp,ccs/ccom,rrst/rrs,st/sig,prrs/rrs,nsp/sysp,rsysp/rmop,rbq/rbp,pcd/cdeath,nrcp/nrbp,rcd/rcp,ndeath/cdeath,rres/rrs,thom/ash,taxis/res,rcpp/rcp,prisp/risp,prloc/rloc,air/iresp,prg/rgrowth,prcp/prbp,rcmot/rloc,cmig/cmot,rccb/rcp,rcco/rcp,cpo/cco,sfo/cco,cjo/cco,oo/cco,cca/cco,cca/ccb,pcco/cco,remcp/rcp,ecp/eomcp,rafbp/rcp,rcadh/rcp,csa/cadh,caiir/cact,nrmop/rmop,ross/rmop,nrdp/rdp,rcdiff/rdp,cmorph/asm,btd/tdev,prmop/rmop,prdp/rdp,rmod/rmop,rasmo/rdp,cdev/cdiff,sdev/mod,tubed/aod,gg/cpir,dpir/rp}
  \draw[ge] (\a) -- (\b);
\foreach \a/\b in {onccp/oncmp,onccp/oscp,mcp/mmp,mcp/oscp,prcatp/rcatp,oncbp/oncmp,pepmp/amp,abp/amp,ramp/rncmp,protmp/oncmp,protmp/mmp,prncmp/rncmp,rnomp/rncmp,nobp/nomp,gexp/mmp,rmmp/rpmp,mbp/mmp,mmod/mmp,prbsp/rbsp,rcbp/rbsp,namp/nccmp,nccbp/nccmp,nccbp/hbp,rnccmp/rpmp,rchmp/rpmp,chbp/chmp,albp/almp,albp/ohcbp,polmp/almp,prcmp/rcmp,opmp/phmp,mcat/mit,rmit/rtrans,nrtrans/rtrans,mitt/mit,mitt/tmt,rsalt/ros,rphmp/rcmp,iitt/tmt,pccmp/phmp,rtmt/rtrans,drbac/defr,drbac/rbac,rros/roxs,croc/rocc,rlip/rchem,cros/rosub,rcyt/rosub,cih/mch,imch/imih,rrosmp/rcmp,rlmp/rpmp,crfss/rfss,nrsig/rsig,prmf/rmf,rca/rmf,rta/rmf,nrcc/rccom,prsig/rsig,ssig/ccs,prccom/rccom,rcrs/rrst,rst/rsig,ist/st,rnsp/rsysp,prcca/rbq,csrsp/st,gpcr/csrsp,app/pcd,rpcd/rcd,nrcd/rcd,rnd/rcd,prres/rres,bres/bremod,nrcpp/rcpp,chemo/taxis,prcpp/rcpp,lmig/cmig,rssa/rbq,rcg/rgrowth,prcm/rcmot,rcmig/rcmot,prccb/rccb,synorg/cjo,prcco/rcco,rcpo/rcco,rsfo/rcco,cja/cjo,cja/cca,roo/rcco,oa/oo,oa/cca,pcca/pcco,pcca/cca,csko/oo,rass/rbq,csjo/cjo,recp/remcp,pmbcpo/cpo,prcadh/rcadh,rcsa/rcadh,rcmorph/rdp,cma/csa,atcm/cmig,laiir/lact,laiir/caiir,nross/ross,nrcdiff/rcdiff,bmin/btd,rbtd/rmod,rcdev/rcdiff,hemo/sdev,csd/sdev,cmat/dmat,gcd/cdev,fgg/gg}
  \draw[ge] (\a) -- (\b);
\foreach \a/\b in {ppc/mcp,ppc/onccp,prot/protmp,pepbp/pepmp,pepbp/abp,pramp/ramp,rpmpb/rmmp,pcpmp/rpmpb,rnobp/rnomp,rgexp/rmmp,prmmp/rmmp,rmbp/rmmp,rmbp/rbsp,prcbp/rcbp,dnamp/namp,pmproc/protmp,pmproc/mmod,prnccmp/rnccmp,rchbp/rchmp,ralbp/rsmmp,polbp/polmp,polbp/albp,opbp/opmp,ipmp/opmp,ipmp/polmp,mitr/mcat,nrmit/rmit,ost/trans,mctt/mitt,mctt/mcat,rmitt/rmit,rmitt/rtmt,rcai/rinorg,prphmp/rphmp,rphosmp/rphmp,phos/pccmp,rhp/rros,rra/rocc,crlip/rlip,rchemo/rcyt,crcyt/rcyt,rtnf/rcyt,icih/cih,icih/imch,prrosmp/rrosmp,prlmp/rlmp,rtfa/rca,prca/rca,prca/prmf,roxa/rca,rha/rca,rtta/rta,rsra/rmf,tss/ssig,prst/rst,rspstat/ist,sapk/ist,rist/rst,mapk/ist,smms/ist,elrsp/csrsp,imsp/csrsp,grsp/csrsp,csrcc/csrsp,rasp/rpcd,irsp/elrsp,mcap/app,rap/rpcd,nrpcd/rpcd,nap/app,nap/ndeath,nrnd/rnd,rchemot/rres,cchem/chemo,scas/pcca,rlmig/rcmig,mcm/lmig,mlm/lmig,prcg/rcg,prcmig/rcmig,rso/rcco,pso/synorg,rcja/rcco,prcpo/rcpo,prsfo/rsfo,syna/synorg,syna/cja,proo/roo,roa/roo,rpcca/rcco,ppol/pcca,rcsko/roo,rccs/rass,acsko/csko,rpmbcpo/rcpo,csja/csjo,csja/cja,rcshape/rcmorph,prcsa/rcsa,rcma/rcsa,epcm/cmig,rbmin/rbtd,nrbtd/rbtd,rhemo/rcdev,mcd/hemo,ld/hemo}
  \draw[ge] (\a) -- (\b);
\foreach \a/\b in {mdmcp/mcp,pipcp/prot,pipcp/ppc,rprot/rpmpb,transl/pepbp,prpm/rpmpb,prnobp/rnobp,ptrge/rgexp,prgexp/rgexp,prmbp/rmbp,dnabp/dnamp,rdnamp/rnccmp,paam/pmproc,rpmproc/rpmpb,ipbp/ipmp,itpmp/ipmp,pphos/phos,kit/mitr,rmitr/rmit,cait/mitr,rmctt/rmitt,ictt/iitt,ictt/mctt,prphosmp/rphosmp,rphos/rphosmp,crra/rra,crchemo/rchemo,cmsp/crcyt,crtnf/rtnf,seqca/mol,prtfa/rtfa,proxa/roxa,rmoa/roxa,prha/rha,rgtp/rha,rmitta/rtta,rntra/rsra,rtss/rccom,atss/tss,rrspstat/rist,rjakstat/rspstat,prist/rist,rsapk/rist,samapk/mapk,samapk/sapk,rmapk/rist,erk/mapk,cams/smms,cnms/smms,trptksp/elrsp,igrsp/grsp,rmcap/rap,nrap/rap,nrap/nrpcd,rnap/rap,rnap/rnd,prchemot/rchemot,prlmig/rlmig,lchem/lmig,lchem/cchem,rmcm/rlmig,mmig/mlm,lymig/mcm,rpso/rso,rsyna/rso,esa/syna,psso/pso,psasm/syna,prpcca/rpcca,rppol/rpcca,prcsko/rcsko,racsko/rcsko,acr/acsko,afo/acsko,faa/csja,prcma/rcma,repcm/rcmig,encm/epcm,lyact/lact,nrbmin/rbmin,rmcd/rhemo,mncd/ld,rvd/rasmo,oocd/cdiff}
  \draw[ge] (\a) -- (\b);
\foreach \a/\b in {mdpcp/mdmcp,mdpcp/ppc,rpipcp/rprot,prprot/rprot,rtransl/ptrge,rdnabp/rdnamp,prdnamp/rdnamp,ptm/paam,prpmproc/rpmproc,ripbp/ralbp,itpbp/itpmp,itpbp/ipbp,rpphos/rphos,rkit/rmitr,rcait/rmitr,catt/cait,catt/ictt,prphos/rphos,chsp/cmsp,tnfsp/cmsp,rseqca/rlocz,rka/rtfa,prmoa/rmoa,rnosa/rmoa,prgtp/rgtp,rnmda/rntra,cst/atss,prrspstat/rrspstat,rrjak/rrspstat,prsapk/rsapk,prmapk/rmapk,rsamapk/rsapk,jnk/samapk,rerk/rmapk,rcams/rist,camp/cnms,rmpot/rbq,vegf/trptksp,erbb/trptksp,nrmcap/rmcap,nrnap/rnap,rlchem/rlmig,prmcm/rmcm,mchem/mmig,rmmig/rmcm,rlymig/rmcm,lychem/lymig,resa/rsyna,psdo/psso,pssa/psso,pssa/psasm,prppol/rppol,rafl/rass,rafo/racsko,racr/racsko,apd/afo,afbo/afo,prepcm/repcm,rencm/repcm,bvecm/encm,laiirb/lyact,laiirb/laiir,bca/lyact,lyd/mncd,nrmcd/rmcd,prvd/rvd}
  \draw[ge] (\a) -- (\b);
\foreach \a/\b in {ubpcp/mdpcp,prpipcp/rpipcp,prtransl/rtransl,prdnabp/rdnabp,ptyrp/ptm,ptyrp/pphos,ritpbp/ripbp,pap/pphos,prpphos/rpphos,rpka/rka,nrkit/rkit,rcatt/rcait,catic/catt,nrseqca/rseqca,prka/rka,prka/prtfa,rlka/rka,prnosa/rnosa,agtp/prgtp,mcst/rtss,stg/cst,prrjak/rrjak,prsamapk/rsamapk,rjnk/rsamapk,prerk/rerk,rcamp/rcams,rpsmp/rmpot,egfr/erbb,cstp/cst,prlchem/rlchem,rmchem/rlchem,prlymig/rlymig,rlychem/rlymig,tchem/lychem,rpsdo/rpso,psda/psdo,psda/pssa,rpssa/rsyna,rapd/rafo,afp/apd,afba/afbo,prencm/rencm,bcaiir/bca,bcaiir/laiirb,bcd/lyd,rubpcp/rpipcp,ptyra/pap,ptyra/ptyrp,rptyrp/rpphos,rpstka/rpka,prpka/rpka,prpka/prka,rscai/nrseqca,prlka/rlka,rpik/rlka,nrst/mcst,rsplas/rssa,pmcst/mcst,prstr/mcst,rstg/mcst,prjnk/rjnk,epsp/rpsmp,cafbs/afba,asor/acsko,mbcd/bcd,spang/ang}
  \draw[ge] (\a) -- (\b);
\foreach \a/\b in {prubpcp/rubpcp,prptyrp/rptyrp,rmapka/rpstka,prpstka/rpstka,apka/prpka,rrscai/rseqca,prpik/rpik,ltsd/rsplas,ltsp/rsplas,prstg/rstg,mepsp/epsp,prlychem/rlychem,rtchem/rlychem,rpsda/rpssa,rafp/rapd,prtchem/rtchem,prafp/rafp,sfa/cafbs,rnpd/rpmbcpo,mbcdiir/mbcd,rjnka/rmapka,prmapka/rmapka,ajnka/prmapka,prnpd/rnpd,mzbcd/mbcdiir,prepsp/mepsp,prjnka/rjnka,prang/rang,prlychem/prlymig}
  \draw[ge] (\a) -- (\b);
% regulates (black)
\foreach \a/\b in {rcatp/capr,rmp/mp,rbsp/bsp,rcmp/cmp,rnobp/nobp,rnomp/nomp,rncmp/ncmp,rgexp/gexp,rmmp/mmp,rmbp/mbp,rcbp/cbp,rpmproc/pmproc,rdnabp/dnabp,rdnamp/dnamp,rphmp/phmp,rphosmp/pccmp,rphos/phos,rpphos/pphos,rptyrp/ptyrp,rtransl/transl,rpipcp/pipcp,rprot/prot,rubpcp/ubpcp,ramp/amp,rpmpb/protmp,rsmmp/smmp,rchmp/chmp,rchbp/chbp,ralbp/albp,ripbp/ipbp,ritpbp/itpbp,rnccmp/nccmp,rsig/sig,rccom/ccom,rst/st,rist/ist,rmapk/mapk,rsapk/sapk,rsamapk/samapk,rjnk/jnk,rerk/erk,rrjak/rjakstat,rrspstat/rspstat,rstg/stg,rrs/rts,rbp/bp,rloc/locom,risp/isp,rgrowth/growth,rcg/cgrowth,rcmot/cmot,rcmig/cmig,rlmig/lmig,rlchem/lchem,rchemot/chemo,rcpp/cpp,rcp/cp,rccb/ccb,rcco/cco,rcpo/cpo,rsfo/sfo,roo/oo,rpcca/pcca,rppol/ppol,rcsko/csko,rafp/afp,rcadh/cadh,rcsa/csa,rcma/cma,repcm/epcm,rencm/encm,rnpd/npd,rmop/mop,rdp/dev,rvd/vd,rang/ang,rlmp/lmp,rrosmp/rosmp,rres/res,rcd/cdeath,rap/app,rpcd/pcd,rnd/ndeath,rmcap/mcap,rnap/nap,rmit/mit,rtrans/trans,rmitt/mitt,rmctt/mctt,rmitr/mitr,rkit/kit,rcait/cait,rcatt/catt,rtmt/tmt,rlocz/loc,rseqca/seqca,rrscai/rscai,rsysp/sysp,rnsp/nsp,rtss/tss,rcams/cams,rcamp/camp,rsyna/syna,rpso/pso,rso/synorg,rcja/cja,roa/oa,rpsdo/psdo,rpssa/pssa,rpsda/psda,resa/esa,rhemo/hemo,rmcd/mcd,rbtd/btd,rbmin/bmin,rcdiff/cdiff,rcdev/cdev,rmod/mod,ross/oss,remcp/eomcp,recp/ecp,rafbp/afbp,racsko/acsko,racr/acr,rcmorph/cmorph,rpmbcpo/pmbcpo,rlychem/lychem,rtchem/tchem,rlymig/lymig,rmcm/mcm,rmmig/mmig,rmchem/mchem,rrst/rstr,rcrs/crst,rpik/rpka}
  \draw[bk] (\a) -- (\b);
% positively regulates (green)
\foreach \a/\b in {prcatp/capr,prncmp/ncmp,prmp/mp,prbsp/bsp,prcmp/cmp,prnobp/nobp,prgexp/gexp,prmmp/mmp,prmbp/mbp,prcbp/cbp,prpmproc/pmproc,prdnabp/dnabp,prdnamp/dnamp,prphmp/phmp,prphosmp/pccmp,prphos/phos,prpphos/pphos,prptyrp/ptyrp,prtransl/transl,prpipcp/pipcp,prprot/prot,prubpcp/ubpcp,pramp/amp,prpm/protmp,pcpmp/protmp,prnccmp/nccmp,prsig/sig,prccom/ccom,prst/st,prist/ist,prmapk/mapk,prsapk/sapk,prsamapk/samapk,prjnk/jnk,prerk/erk,prrjak/rjakstat,prrspstat/rspstat,prstg/stg,prstr/cst,prrs/rts,prbp/bp,prloc/locom,prisp/isp,prg/growth,prcg/cgrowth,prcm/cmot,prcmig/cmig,prlmig/lmig,prlchem/lchem,prchemot/chemo,prcpp/cpp,prcp/cp,prccb/ccb,prcco/cco,prcpo/cpo,prsfo/sfo,proo/oo,prpcca/pcca,prppol/ppol,prcsko/csko,prafp/afp,prcadh/cadh,prcsa/csa,prcma/cma,prepcm/epcm,prencm/encm,prnpd/npd,prmop/mop,prdp/dev,prvd/vd,prang/ang,prlmp/lmp,prrosmp/rosmp,prres/res,prlychem/lychem,prtchem/tchem,prlymig/lymig,prmcm/mcm,prepsp/epsp}
  \draw[gr] (\a) -- (\b);
% negatively regulates (red)
\foreach \a/\b in {nrbp/bp,nrcp/cp,nrcd/cdeath,nrpcd/pcd,nrap/app,nrnd/ndeath,nrmcap/mcap,nrnap/nap,nrcpp/cpp,nrcc/ccom,nrsig/sig,nrtrans/trans,nrmit/mit,nrkit/kit,nrseqca/seqca,nrst/cst,nrmop/mop,nrdp/dev,nross/oss,nrcdiff/cdiff,nrbtd/btd,nrbmin/bmin,nrmcd/mcd}
  \draw[rd] (\a) -- (\b);
% part of (blue)
\foreach \a/\b in {transl/gexp,st/crs,neurog/nsd,gon/neurog,nd/gon,ndev/nd,npd/ndev,bvd/vd,vd/csd,bvm/bvd,ang/bvm,oocm/oocdev,oocdev/oocd,oocd/oogen,oogen/fgg,tmorph/tubed,asfm/asm,thom/moh,bres/bremod,ajnka/prrjak,cpir/mor,gg/srep,st/ccom,crcs/crs,mbcdiir/bcaiir,faa/fa}
  \draw[bl] (\a) -- (\b);
\end{pgfonlayer}
\end{tikzpicture}
\end{document}
